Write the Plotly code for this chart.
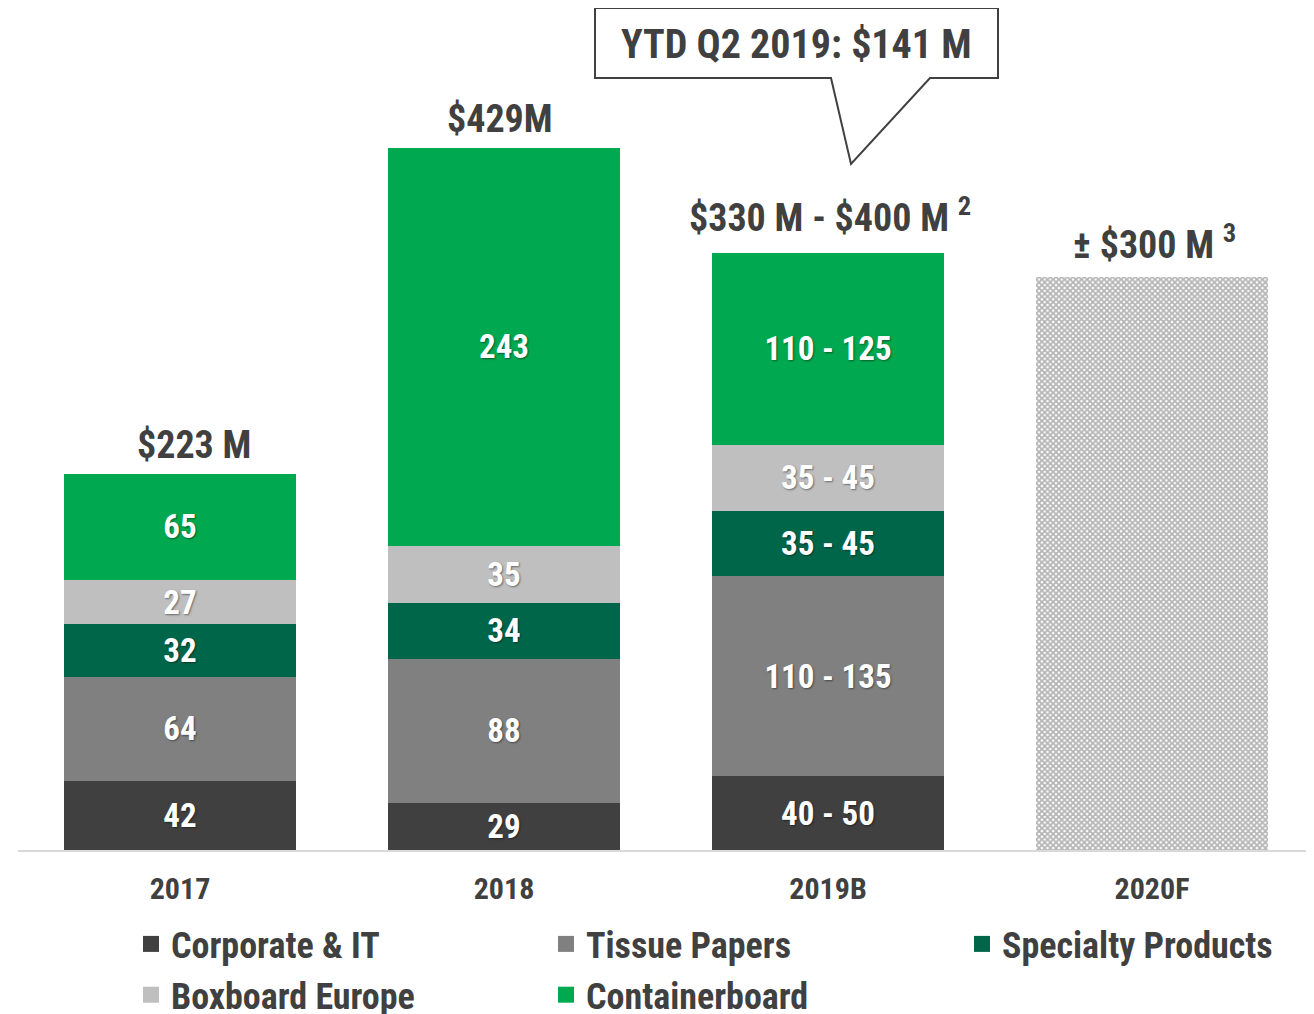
import plotly.graph_objects as go

years = ["2017", "2018", "2019B", "2020F"]
bar_years = ["2017", "2018", "2019B"]

corporate = [42, 29, 45]
tissue = [64, 88, 122.5]
specialty = [32, 34, 40]
boxboard = [27, 35, 40]
container = [65, 243, 117.5]

corporate_txt = ["42", "29", "40 - 50"]
tissue_txt = ["64", "88", "110 - 135"]
specialty_txt = ["32", "34", "35 - 45"]
boxboard_txt = ["27", "35", "35 - 45"]
container_txt = ["65", "243", "110 - 125"]

forecast_2020 = [350]  # hatched bar height as drawn
total_labels = ["$223 M", "$429M", "$330 M - $400 M <sup>2</sup>", "± $300 M <sup>3</sup>"]
callout_text = "YTD Q2 2019: $141 M"

FONT = "Liberation Sans Narrow, Arial Narrow, Roboto Condensed, Arial, sans-serif"
DARK = "#404040"

series = [
    ("Corporate & IT", corporate, corporate_txt, "#404040", "legend"),
    ("Tissue Papers", tissue, tissue_txt, "#808080", "legend2"),
    ("Specialty Products", specialty, specialty_txt, "#00664A", "legend3"),
    ("Boxboard Europe", boxboard, boxboard_txt, "#BFBFBF", "legend"),
    ("Containerboard", container, container_txt, "#00A94F", "legend2"),
]

fig = go.Figure()
for name, vals, txt, col, leg in series:
    fig.add_trace(go.Bar(
        x=bar_years, y=vals, name=name, text=txt,
        marker=dict(color=col, line=dict(width=0)),
        textposition="inside", insidetextanchor="middle",
        textfont=dict(family=FONT, size=33, color="white", weight="bold",
                      shadow="1px 1px 2px rgba(0,0,0,0.45)"),
        textangle=0, constraintext="none",
        showlegend=False, legendgroup=name, hoverinfo="skip",
    ))

fig.add_trace(go.Bar(
    x=["2020F"], y=forecast_2020, name="2020F", showlegend=False,
    marker=dict(color="white", line=dict(width=0),
                pattern=dict(shape="x", size=4, solidity=0.7,
                             fgcolor="#6A6A6A", bgcolor="#FFFFFF", fillmode="overlay")),
    hoverinfo="skip",
))

# legend entries (square swatches)
for name, vals, txt, col, leg in series:
    fig.add_trace(go.Scatter(
        x=[None], y=[None], mode="markers", name=name, legend=leg, legendgroup=name,
        marker=dict(symbol="square", size=16, color=col), hoverinfo="skip",
    ))

totals = [sum(v) for v in zip(corporate, tissue, specialty, boxboard, container)] + forecast_2020
xshifts = [14, -4, 2, 2]
yshifts = [5, 5, 11, 8]
for i, (tot, lab, xs, ys) in enumerate(zip(totals, total_labels, xshifts, yshifts)):
    fig.add_annotation(x=i, y=tot, text=lab, showarrow=False, yanchor="bottom",
                       yshift=ys, xshift=xs,
                       font=dict(family=FONT, size=38, color=DARK, weight="bold"))

# page offset (default body margin) compensation
OFF = 8
W, H = 1314 - OFF, 1060
L, R, T = 18 - OFF, 0, 0
PLOT_BOTTOM = 850 - OFF
B = H - PLOT_BOTTOM
pw, ph = W - L - R, PLOT_BOTTOM - T
YMAX = ph / 1.636

def px(x):
    return (x - OFF - L) / pw

def py(y):
    return (PLOT_BOTTOM - (y - OFF)) / ph

pts = [(595, 8), (998, 8), (998, 78), (930, 78), (851, 164), (831, 78), (595, 78)]
path = "M " + " L ".join(f"{px(a):.5f},{py(b):.5f}" for a, b in pts) + " Z"
fig.add_shape(type="path", path=path, xref="paper", yref="paper",
              fillcolor="white", line=dict(color=DARK, width=2), layer="above")
fig.add_annotation(x=px(797), y=py(44), xref="paper", yref="paper", text=callout_text,
                   xanchor="center", yanchor="middle", showarrow=False,
                   font=dict(family=FONT, size=40, color=DARK, weight="bold"))

leg_common = dict(orientation="v", xanchor="left", yanchor="top",
                  font=dict(family=FONT, size=36, color=DARK, weight="bold"),
                  bgcolor="rgba(0,0,0,0)", tracegroupgap=1, itemclick=False,
                  itemdoubleclick=False, traceorder="grouped", itemsizing="trace")
fig.update_layout(
    width=W, height=H,
    margin=dict(l=L, r=R, t=T, b=B),
    paper_bgcolor="white", plot_bgcolor="white",
    barmode="stack", bargap=0.284,
    font=dict(family=FONT, color=DARK),
    xaxis=dict(type="category", categoryorder="array", categoryarray=years, range=[-0.5, 3.5],
               showline=True, linecolor="#D9D9D9", linewidth=2, showgrid=False,
               zeroline=False, ticks="", ticklabelstandoff=11, automargin=False,
               tickfont=dict(family=FONT, size=30, color=DARK, weight="bold"),
               fixedrange=True),
    yaxis=dict(range=[0, YMAX], visible=False, fixedrange=True),
    legend=dict(x=px(131), y=py(914), **leg_common),
    legend2=dict(x=px(546), y=py(914), **leg_common),
    legend3=dict(x=px(962), y=py(914), **leg_common),
    showlegend=True,
)

fig.write_html("out.html")
